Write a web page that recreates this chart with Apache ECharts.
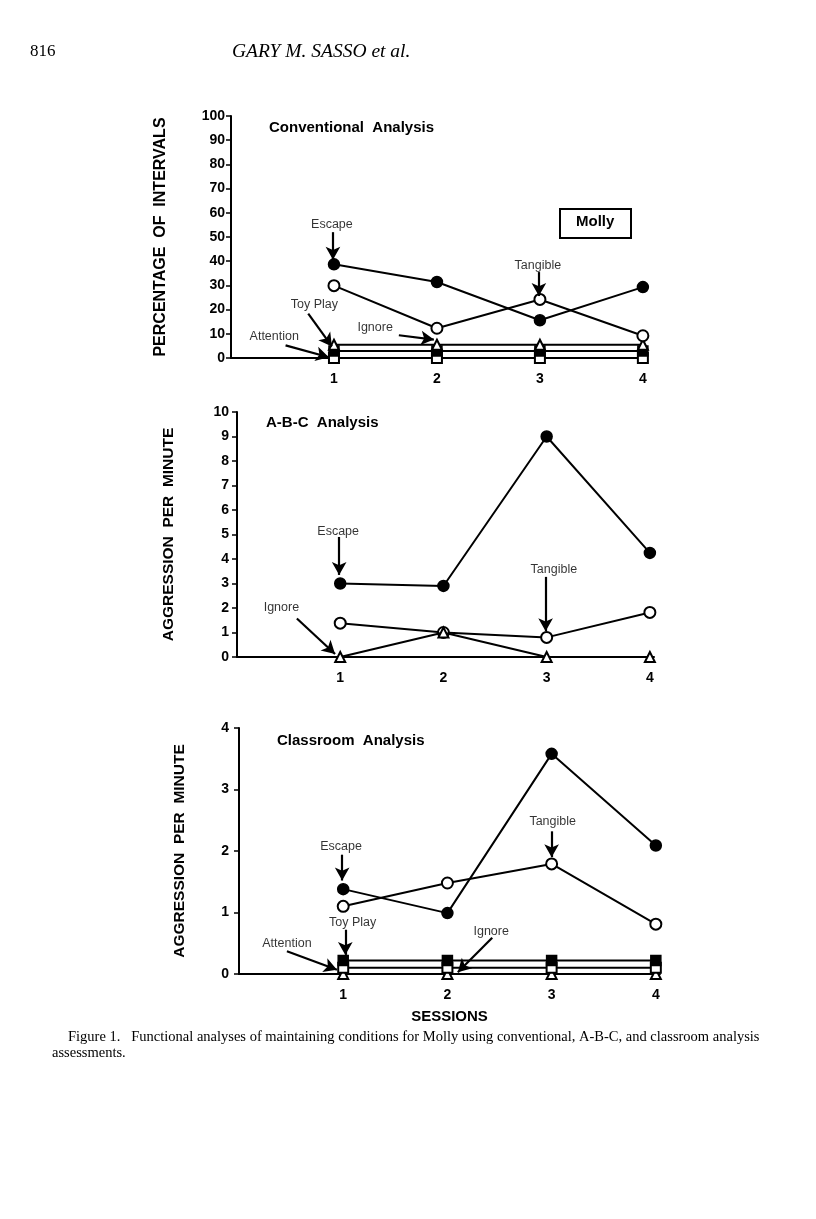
<!DOCTYPE html>
<html>
<head>
<meta charset="utf-8">
<script src="https://cdn.jsdelivr.net/npm/echarts@6/dist/echarts.min.js"></script>
<style>
html,body{margin:0;padding:0;background:#fff;}
#c{width:816px;height:1219px;}
</style>
</head>
<body>
<div id="c"></div>
<script>
// ---------- data ----------
const sessions = [1, 2, 3, 4];
const xTickLabels = ['1', '2', '3', '4'];

// Conventional analysis (percentage of intervals)
const convEscape    = [38.7, 31.4, 15.6, 29.3];
const convTangible  = [29.9, 12.3, 24.2, 9.2];
const convIgnore    = [5.5, 5.5, 5.5, 5.5];
const convToyPlay   = [2.9, 2.9, 2.9, 2.9];
const convAttention = [0, 0, 0, 0];
const convYTicks    = [0, 10, 20, 30, 40, 50, 60, 70, 80, 90, 100];

// A-B-C analysis (aggression per minute)
const abcEscape   = [3.0, 2.9, 9.0, 4.25];
const abcTangible = [1.38, 1.0, 0.8, 1.82];
const abcIgnore   = [0, 1.0, 0, 0];
const abcYTicks   = [0, 1, 2, 3, 4, 5, 6, 7, 8, 9, 10];

// Classroom analysis (aggression per minute)
const clsEscape    = [1.38, 0.99, 3.58, 2.09];
const clsTangible  = [1.10, 1.48, 1.79, 0.81];
const clsToyPlay   = [0.22, 0.22, 0.22, 0.22];
const clsAttention = [0.1, 0.1, 0.1, 0.1];
const clsIgnore    = [0, 0, 0, 0];
const clsYTicks    = [0, 1, 2, 3, 4];

// annotations: label text, label point, arrow start, arrow end (data coordinates)
const convNotes = [
  ['Escape',    [0.98, 55.1], [0.99, 52.0], [0.99, 40.6]],
  ['Tangible',  [2.98, 38.3], [2.99, 35.5], [2.99, 25.6]],
  ['Toy Play',  [0.81, 22.2], [0.75, 18.3], [0.98, 4.8]],
  ['Ignore',    [1.40, 12.6], [1.63, 9.4],  [1.97, 7.6]],
  ['Attention', [0.42, 8.7],  [0.53, 5.2],  [0.95, 0.3]]
];
const abcNotes = [
  ['Escape',   [0.98, 5.14], [0.99, 4.9],  [0.99, 3.35]],
  ['Tangible', [3.07, 3.57], [2.99, 3.27], [2.99, 1.05]],
  ['Ignore',   [0.43, 2.0],  [0.58, 1.57], [0.95, 0.12]]
];
const clsNotes = [
  ['Escape',    [0.98, 2.07], [0.99, 1.94], [0.99, 1.52]],
  ['Tangible',  [3.01, 2.48], [3.0, 2.32],  [3.0, 1.90]],
  ['Toy Play',  [1.09, 0.83], [1.02, 0.72], [1.02, 0.31]],
  ['Attention', [0.46, 0.50], [0.46, 0.37], [0.94, 0.07]],
  ['Ignore',    [2.42, 0.69], [2.43, 0.59], [2.10, 0.03]]
];

// ---------- chart ----------
const chart = echarts.init(document.getElementById('c'), null, {renderer: 'canvas'});
const SANS = '"Liberation Sans", Arial, Helvetica, sans-serif';
const SERIF = '"Liberation Serif", "Times New Roman", serif';

function pairs(vals) { return sessions.map((s, i) => [s, vals[i]]); }

const markerStyles = {
  filledCircle: {symbol: 'circle', symbolSize: 11, itemStyle: {color: '#000', borderColor: '#000', borderWidth: 1.5}},
  openCircle:   {symbol: 'circle', symbolSize: 11, itemStyle: {color: '#fff', borderColor: '#000', borderWidth: 2}},
  openTriangle: {symbol: 'triangle', symbolSize: 10, itemStyle: {color: '#fff', borderColor: '#000', borderWidth: 2}},
  filledSquare: {symbol: 'rect', symbolSize: 10, itemStyle: {color: '#000', borderColor: '#000', borderWidth: 1.5}},
  openSquare:   {symbol: 'rect', symbolSize: 10, itemStyle: {color: '#fff', borderColor: '#000', borderWidth: 2}}
};

function lineSeries(name, vals, idx, style, z) {
  return Object.assign({
    name: name, type: 'line', xAxisIndex: idx, yAxisIndex: idx,
    data: pairs(vals), clip: false, z: z || 3,
    lineStyle: {color: '#000', width: 2},
    showSymbol: true, animation: false, silent: true
  }, style);
}

function noteSeries(notes, idx) {
  return {
    type: 'scatter', xAxisIndex: idx, yAxisIndex: idx, symbolSize: 0, clip: false,
    silent: true, animation: false, z: 5,
    itemStyle: {color: '#000'},
    data: notes.map(n => ({name: n[0], value: n[1]})),
    label: {show: true, position: 'inside', formatter: '{b}', color: '#000',
            textBorderWidth: 0, textBorderColor: 'transparent',
            fontFamily: SANS, fontSize: 12.5},
    markLine: {
      silent: true, animation: false, symbol: ['none', 'arrow'], symbolSize: [11, 13],
      label: {show: false},
      lineStyle: {color: '#000', width: 2.2, type: 'solid'},
      data: notes.map(n => [{coord: n[2]}, {coord: n[3]}])
    }
  };
}

const grids = [
  {left: 231, top: 116, width: 416, height: 242},
  {left: 237, top: 412, width: 417, height: 245},
  {left: 239, top: 728, width: 421, height: 246}
];

function xAxis(idx, extra) {
  return Object.assign({
    type: 'value', gridIndex: idx, min: 0, max: 4.04, interval: 1,
    axisLine: {show: true, lineStyle: {color: '#000', width: 2}},
    axisTick: {show: false},
    splitLine: {show: false},
    axisLabel: {
      color: '#000', fontFamily: SANS, fontWeight: 'bold', fontSize: 14, margin: 14,
      formatter: v => { const i = sessions.indexOf(v); return i >= 0 ? xTickLabels[i] : ''; }
    }
  }, extra || {});
}

function yAxis(idx, ticks, name, gap, margin, nameSize) {
  return {
    type: 'value', gridIndex: idx, min: ticks[0], max: ticks[ticks.length - 1],
    interval: ticks[1] - ticks[0],
    name: name, nameLocation: 'middle', nameRotate: 90, nameGap: gap,
    nameTextStyle: {color: '#000', fontFamily: SANS, fontWeight: 'bold', fontSize: nameSize},
    axisLine: {show: true, lineStyle: {color: '#000', width: 2}},
    axisTick: {show: true, length: 5, lineStyle: {color: '#000', width: 1.5}},
    splitLine: {show: false},
    axisLabel: {color: '#000', fontFamily: SANS, fontWeight: 'bold', fontSize: 14, margin: margin}
  };
}

function txt(text, left, top, style) {
  return {text: text, left: left, top: top, padding: 0, textStyle: Object.assign({color: '#000'}, style)};
}

const option = {
  backgroundColor: '#fff',
  animation: false,
  grid: grids,
  xAxis: [
    xAxis(0),
    xAxis(1),
    xAxis(2, {name: 'SESSIONS', nameLocation: 'middle', nameGap: 35,
      nameTextStyle: {color: '#000', fontFamily: SANS, fontWeight: 'bold', fontSize: 15}})
  ],
  yAxis: [
    yAxis(0, convYTicks, 'PERCENTAGE  OF  INTERVALS', 62, 6, 16),
    yAxis(1, abcYTicks, 'AGGRESSION  PER  MINUTE', 60, 8, 15.5),
    yAxis(2, clsYTicks, 'AGGRESSION  PER  MINUTE', 51, 10, 15.5)
  ],
  title: [
    txt('816', 30, 43, {fontFamily: SERIF, fontWeight: 'normal', fontSize: 17}),
    txt('GARY M. SASSO et al.', 232, 42, {fontFamily: SERIF, fontStyle: 'italic', fontWeight: 'normal', fontSize: 19.5}),
    txt('Conventional  Analysis', 269, 120, {fontFamily: SANS, fontWeight: 'bold', fontSize: 15}),
    txt('A-B-C  Analysis', 266, 415, {fontFamily: SANS, fontWeight: 'bold', fontSize: 15}),
    txt('Classroom  Analysis', 277, 733, {fontFamily: SANS, fontWeight: 'bold', fontSize: 15}),
    txt('Figure 1.   Functional analyses of maintaining conditions for Molly using conventional, A-B-C, and classroom analysis',
        68, 1030, {fontFamily: SERIF, fontWeight: 'normal', fontSize: 14.5}),
    txt('assessments.', 52, 1046, {fontFamily: SERIF, fontWeight: 'normal', fontSize: 14.5})
  ],
  graphic: [
    {type: 'rect', left: 559, top: 208, shape: {width: 71, height: 29},
     style: {fill: '#fff', stroke: '#000', lineWidth: 2}, z: 10},
    {type: 'text', left: 576, top: 214, z: 11,
     style: {text: 'Molly', fill: '#000', font: 'bold 15px ' + SANS}}
  ],
  series: [
    lineSeries('Attention', convAttention, 0, markerStyles.openSquare),
    lineSeries('Toy Play', convToyPlay, 0, markerStyles.filledSquare),
    lineSeries('Ignore', convIgnore, 0, markerStyles.openTriangle),
    lineSeries('Tangible', convTangible, 0, markerStyles.openCircle, 4),
    lineSeries('Escape', convEscape, 0, markerStyles.filledCircle, 4),
    noteSeries(convNotes, 0),

    lineSeries('Tangible', abcTangible, 1, markerStyles.openCircle),
    lineSeries('Ignore', abcIgnore, 1, markerStyles.openTriangle, 4),
    lineSeries('Escape', abcEscape, 1, markerStyles.filledCircle, 4),
    noteSeries(abcNotes, 1),

    lineSeries('Ignore', clsIgnore, 2, markerStyles.openTriangle),
    lineSeries('Attention', clsAttention, 2, markerStyles.openSquare),
    lineSeries('Toy Play', clsToyPlay, 2, markerStyles.filledSquare),
    lineSeries('Tangible', clsTangible, 2, markerStyles.openCircle, 4),
    lineSeries('Escape', clsEscape, 2, markerStyles.filledCircle, 4),
    noteSeries(clsNotes, 2)
  ]
};
chart.setOption(option);
</script>
</body>
</html>
